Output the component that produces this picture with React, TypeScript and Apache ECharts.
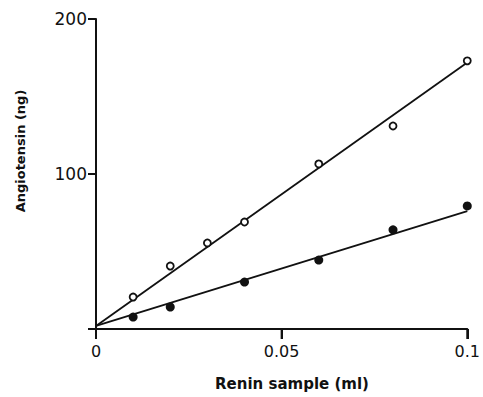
import React, { useEffect, useRef } from "react";
import * as echarts from "echarts";

const reninMl = [0.01, 0.02, 0.03, 0.04, 0.06, 0.08, 0.1];
const openValues = [20.6, 40.6, 55.5, 69, 106.5, 131, 173];
const filledX = [0.01, 0.02, 0.04, 0.06, 0.08, 0.1];
const filledValues = [7.7, 14.2, 30.3, 44.5, 64, 79.4];
const openFit = [[0, 2], [0.1, 172]];
const filledFit = [[0, 2], [0.1, 76]];
const xTicks = [0, 0.05, 0.1];
const yTicks = [100, 200];
const xTitle = "Renin sample (ml)";
const yTitle = "Angiotensin (ng)";

export default function App() {
  const ref = useRef<HTMLDivElement>(null);
  useEffect(() => {
    if (!ref.current) return;
    const chart = echarts.init(ref.current, null, { renderer: "svg" });
    const tickFont = { color: "#111", fontFamily: "DejaVu Sans", fontSize: 16 };
    const titles = [
      {
        type: "text",
        x: 292,
        y: 384,
        style: {
          text: xTitle,
          align: "center",
          verticalAlign: "middle",
          font: "bold 15px 'DejaVu Sans'",
          fill: "#111",
        },
      },
      {
        type: "text",
        x: 20,
        y: 151,
        rotation: Math.PI / 2,
        style: {
          text: yTitle,
          align: "center",
          verticalAlign: "middle",
          font: "bold 13px 'DejaVu Sans'",
          fill: "#111",
        },
      },
    ];
    chart.setOption({
      animation: false,
      backgroundColor: "#fff",
      grid: { left: 96, right: 11, top: 19, bottom: 68 },
      xAxis: {
        type: "value",
        min: 0,
        max: 0.1,
        interval: 0.05,
        splitLine: { show: false },
        axisLine: { show: true, onZero: false, lineStyle: { color: "#111", width: 2 } },
        axisTick: { show: true, length: 10, lineStyle: { color: "#111", width: 2 } },
        axisLabel: {
          ...tickFont,
          margin: 14,
          formatter: (v: number) => (xTicks.some((t) => Math.abs(t - v) < 1e-9) ? String(+v.toFixed(2)) : ""),
        },
      },
      yAxis: {
        type: "value",
        min: 0,
        max: 200,
        interval: 100,
        splitLine: { show: false },
        axisLine: { show: true, onZero: false, lineStyle: { color: "#111", width: 2 } },
        axisTick: { show: true, length: 8, lineStyle: { color: "#111", width: 2 } },
        axisLabel: {
          ...tickFont,
          fontSize: 17,
          margin: 9,
          formatter: (v: number) => (yTicks.includes(v) ? String(v) : ""),
        },
      },
      graphic: titles,
      series: [
        {
          type: "line",
          data: openFit,
          symbol: "none",
          lineStyle: { color: "#111", width: 1.8 },
          z: 1,
        },
        {
          type: "line",
          data: filledFit,
          symbol: "none",
          lineStyle: { color: "#111", width: 1.8 },
          z: 1,
        },
        {
          type: "scatter",
          data: reninMl.map((x, i) => [x, openValues[i]]),
          symbol: "circle",
          symbolSize: 7,
          itemStyle: { color: "#fff", borderColor: "#111", borderWidth: 1.8, opacity: 1 },
          z: 3,
        },
        {
          type: "scatter",
          data: filledX.map((x, i) => [x, filledValues[i]]),
          symbol: "circle",
          symbolSize: 9,
          itemStyle: { color: "#111", opacity: 1 },
          z: 3,
        },
      ],
    });
    const tickLines = xTicks.map((t) => {
      const p = chart.convertToPixel({ gridIndex: 0 } as any, [t, 0]) as number[];
      return {
        type: "line",
        shape: { x1: p[0], y1: p[1], x2: p[0], y2: p[1] + 10 },
        style: { stroke: "#111", lineWidth: 2 },
        z: 100,
      };
    });
    chart.setOption({ graphic: [...titles, ...tickLines] });
    return () => chart.dispose();
  }, []);
  return <div ref={ref} style={{ width: 483, height: 397, position: "absolute", left: 0, top: 0 }} />;
}
